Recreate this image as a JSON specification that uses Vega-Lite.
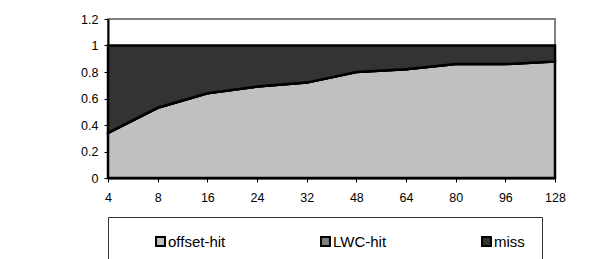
{
  "$schema": "https://vega.github.io/schema/vega-lite/v6.json",
  "width": 447,
  "height": 159,
  "autosize": {"type": "none"},
  "padding": {"left": 108, "top": 19, "right": 55, "bottom": 81},
  "background": "white",
  "config": {
    "view": {"stroke": "#808080", "strokeWidth": 2},
    "font": "Liberation Sans",
    "axis": {"labelFont": "Liberation Sans", "labelFontSize": 12.5, "labelColor": "black", "domainColor": "black", "tickColor": "black", "domainWidth": 2, "tickWidth": 1, "tickSize": 4, "grid": false, "title": null}
  },
  "data": {
    "values": [
      {"k": "4", "i": 0, "series": "offset-hit", "o": 0, "v": 0.34},
      {"k": "8", "i": 1, "series": "offset-hit", "o": 0, "v": 0.53},
      {"k": "16", "i": 2, "series": "offset-hit", "o": 0, "v": 0.64},
      {"k": "24", "i": 3, "series": "offset-hit", "o": 0, "v": 0.69},
      {"k": "32", "i": 4, "series": "offset-hit", "o": 0, "v": 0.72},
      {"k": "48", "i": 5, "series": "offset-hit", "o": 0, "v": 0.80},
      {"k": "64", "i": 6, "series": "offset-hit", "o": 0, "v": 0.82},
      {"k": "80", "i": 7, "series": "offset-hit", "o": 0, "v": 0.86},
      {"k": "96", "i": 8, "series": "offset-hit", "o": 0, "v": 0.86},
      {"k": "128", "i": 9, "series": "offset-hit", "o": 0, "v": 0.88},
      {"k": "4", "i": 0, "series": "LWC-hit", "o": 1, "v": 0},
      {"k": "8", "i": 1, "series": "LWC-hit", "o": 1, "v": 0},
      {"k": "16", "i": 2, "series": "LWC-hit", "o": 1, "v": 0},
      {"k": "24", "i": 3, "series": "LWC-hit", "o": 1, "v": 0},
      {"k": "32", "i": 4, "series": "LWC-hit", "o": 1, "v": 0},
      {"k": "48", "i": 5, "series": "LWC-hit", "o": 1, "v": 0},
      {"k": "64", "i": 6, "series": "LWC-hit", "o": 1, "v": 0},
      {"k": "80", "i": 7, "series": "LWC-hit", "o": 1, "v": 0},
      {"k": "96", "i": 8, "series": "LWC-hit", "o": 1, "v": 0},
      {"k": "128", "i": 9, "series": "LWC-hit", "o": 1, "v": 0},
      {"k": "4", "i": 0, "series": "miss", "o": 2, "v": 0.66},
      {"k": "8", "i": 1, "series": "miss", "o": 2, "v": 0.47},
      {"k": "16", "i": 2, "series": "miss", "o": 2, "v": 0.36},
      {"k": "24", "i": 3, "series": "miss", "o": 2, "v": 0.31},
      {"k": "32", "i": 4, "series": "miss", "o": 2, "v": 0.28},
      {"k": "48", "i": 5, "series": "miss", "o": 2, "v": 0.20},
      {"k": "64", "i": 6, "series": "miss", "o": 2, "v": 0.18},
      {"k": "80", "i": 7, "series": "miss", "o": 2, "v": 0.14},
      {"k": "96", "i": 8, "series": "miss", "o": 2, "v": 0.14},
      {"k": "128", "i": 9, "series": "miss", "o": 2, "v": 0.12}
    ]
  },
  "mark": {"type": "area", "stroke": "black", "strokeWidth": 2.5, "strokeJoin": "miter", "opacity": 1, "fillOpacity": 1},
  "encoding": {
    "x": {
      "field": "k", "type": "ordinal",
      "sort": ["4", "8", "16", "24", "32", "48", "64", "80", "96", "128"],
      "scale": {"type": "point", "padding": 0},
      "axis": {"labelAngle": 0, "labelPadding": 9, "domain": true}
    },
    "y": {
      "field": "v", "type": "quantitative", "stack": "zero",
      "scale": {"domain": [0, 1.2], "nice": false},
      "axis": {"values": [0, 0.2, 0.4, 0.6, 0.8, 1, 1.2], "format": "~g", "labelPadding": 6}
    },
    "order": {"field": "o", "type": "quantitative"},
    "color": {
      "field": "series", "type": "nominal",
      "scale": {"domain": ["offset-hit", "LWC-hit", "miss"], "range": ["#C0C0C0", "#808080", "#333333"]},
      "legend": {
        "title": null,
        "orient": "none",
        "legendX": 0,
        "legendY": 198,
        "direction": "horizontal",
        "columns": 3,
        "gridAlign": "each",
        "padding": 17,
        "strokeColor": "#333333",
        "fillColor": "white",
        "symbolType": "square",
        "symbolSize": 80,
        "symbolStrokeColor": "black",
        "symbolStrokeWidth": 2,
        "symbolOpacity": 1,
        "symbolOffset": 28,
        "labelOffset": 0,
        "labelFont": "Liberation Sans",
        "labelFontSize": 15,
        "labelColor": "black",
        "columnPadding": 64
      }
    }
  }
}
